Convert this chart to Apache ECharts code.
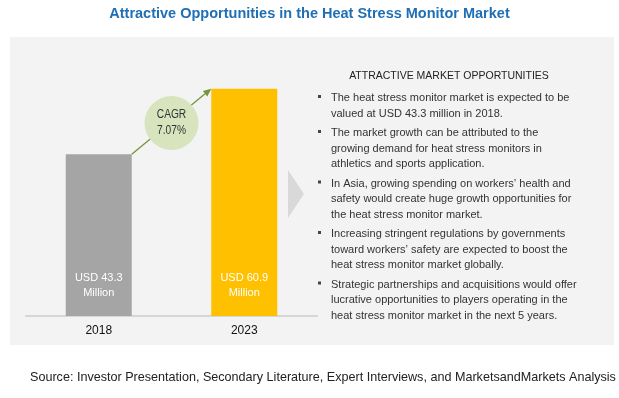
<!DOCTYPE html>
<html>
<head>
<meta charset="utf-8">
<script src="https://cdn.jsdelivr.net/npm/echarts@6/dist/echarts.min.js"></script>
<style>
  html, body { margin: 0; padding: 0; background: #fff; }
  #chart { width: 619px; height: 398px; }
</style>
</head>
<body>
<div id="chart"></div>
<script>
// data
const years = ["2018", "2023"];
const marketValues = [43.3, 60.9];
const valueLabels = ["USD 43.3\nMillion", "USD 60.9\nMillion"];
const barColors = ["#a5a5a5", "#ffc000"];
const cagrText = "CAGR\n7.07%";
const titleText = "Attractive Opportunities in the Heat Stress Monitor Market";
const panelHeading = "ATTRACTIVE MARKET OPPORTUNITIES";
const bullets = [
  "The heat stress monitor market is expected to be\nvalued at USD 43.3 million in 2018.",
  "The market growth can be attributed to the\ngrowing demand for heat stress monitors in\nathletics and sports application.",
  "In Asia, growing spending on workers’ health and\nsafety would create huge growth opportunities for\nthe heat stress monitor market.",
  "Increasing stringent regulations by governments\ntoward workers’ safety are expected to boost the\nheat stress monitor market globally.",
  "Strategic partnerships and acquisitions would offer\nlucrative opportunities to players operating in the\nheat stress monitor market in the next 5 years."
];
const sourceText = "Source: Investor Presentation, Secondary Literature, Expert Interviews, and MarketsandMarkets Analysis";

const sans = "'Liberation Sans', Arial, sans-serif";
const barWidth = 66;

const myChart = echarts.init(document.getElementById("chart"));

let option = {
  animation: false,
  grid: { left: 26, right: 302, top: 36, bottom: 82 },
  xAxis: {
    type: "category",
    data: years,
    axisLine: { lineStyle: { color: "#d6d6d6", width: 2 } },
    axisTick: { show: false },
    axisLabel: { color: "#111", fontSize: 12, margin: 9, fontFamily: sans }
  },
  yAxis: { type: "value", min: 0, max: 75, show: false, splitLine: { show: false } },
  series: [{
    type: "bar",
    barWidth: barWidth,
    data: marketValues.map((v, i) => ({ value: v, itemStyle: { color: barColors[i] } })),
    label: {
      show: true,
      position: "insideBottom",
      distance: 16,
      color: "#fff",
      fontSize: 11,
      lineHeight: 15,
      fontFamily: sans,
      formatter: p => valueLabels[p.dataIndex]
    }
  }]
};

myChart.setOption(option);

// decoration computed from the axes
const p0 = myChart.convertToPixel({ gridIndex: 0 }, [years[0], marketValues[0]]);
const p1 = myChart.convertToPixel({ gridIndex: 0 }, [years[1], marketValues[1]]);
const a0 = [p0[0] + barWidth / 2, p0[1]];
const a1 = [p1[0] - barWidth / 2, p1[1]];
const ang = Math.atan2(a1[1] - a0[1], a1[0] - a0[0]);
const head = 8;
const tip = a1;
const back = [tip[0] - head * Math.cos(ang), tip[1] - head * Math.sin(ang)];
const perp = [-Math.sin(ang) * 3.5, Math.cos(ang) * 3.5];
const mid = [(a0[0] + a1[0]) / 2, (a0[1] + a1[1]) / 2 + 1.5];

const graphics = [
  { type: "rect", z: -10, silent: true, shape: { x: 10, y: 37, width: 604, height: 308 }, style: { fill: "#f3f3f3" } },
  { type: "text", left: "center", top: 6, style: { text: titleText, fill: "#1f6fb5", font: "bold 14.5px " + sans } },
  { type: "text", left: 30, top: 371, style: { text: sourceText, fill: "#222", font: "12.6px " + sans } },
  { type: "line", z: 10, shape: { x1: a0[0], y1: a0[1], x2: back[0], y2: back[1] }, style: { stroke: "#77933c", lineWidth: 1.3 } },
  { type: "polygon", z: 10, shape: { points: [tip, [back[0] + perp[0], back[1] + perp[1]], [back[0] - perp[0], back[1] - perp[1]]] }, style: { fill: "#77933c" } },
  { type: "circle", z: 11, shape: { cx: mid[0], cy: mid[1], r: 27 }, style: { fill: "#d7e4bd" } },
  { type: "text", z: 12, x: mid[0], y: mid[1], scaleX: 0.85, style: { text: cagrText, fill: "#333", font: "12px " + sans, lineHeight: 16, align: "center", verticalAlign: "middle" } },
  { type: "polygon", shape: { points: [[288, 170], [304, 194], [288, 218]] }, style: { fill: "#d9d9d9" } },
  { type: "text", x: 449, y: 76, style: { text: panelHeading, fill: "#222", font: "10.5px " + sans, align: "center", verticalAlign: "middle" } }
];

let y = 98;
bullets.forEach(b => {
  const lines = b.split("\n").length;
  graphics.push({ type: "rect", shape: { x: 318, y: y - 3, width: 3, height: 3 }, style: { fill: "#444" } });
  graphics.push({ type: "text", x: 331, y: y - 7.75, style: { text: b, fill: "#333", font: "11px " + sans, lineHeight: 15.5, verticalAlign: "top" } });
  y += lines * 15.5 + 4;
});

myChart.setOption({ graphic: graphics });
</script>
</body>
</html>
